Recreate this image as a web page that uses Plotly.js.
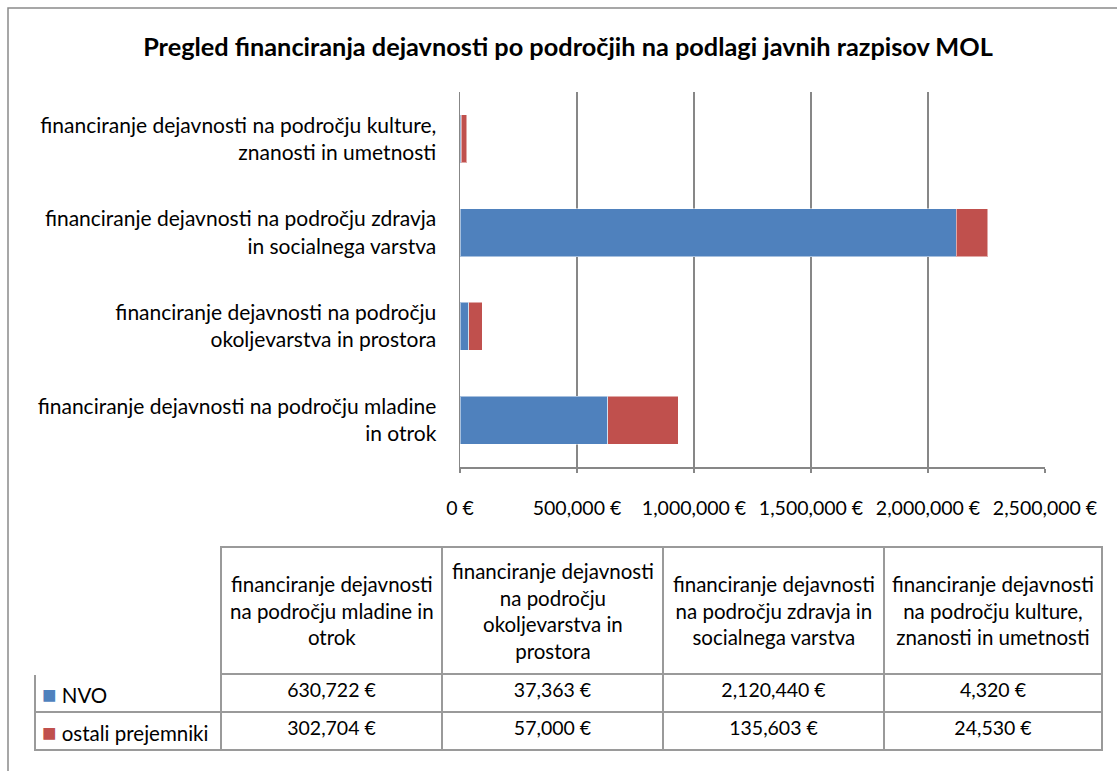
<!DOCTYPE html>
<html>
<head>
<meta charset="utf-8">
<script src="https://cdn.plot.ly/plotly-3.0.1.min.js"></script>
<style>html,body{margin:0;padding:0;background:#fff;}#chart{width:1117px;height:771px;}</style>
</head>
<body>
<div id="chart"></div>
<script>
// Data
var categories = [
  "financiranje dejavnosti na področju mladine<br>in otrok",
  "financiranje dejavnosti na področju<br>okoljevarstva in prostora",
  "financiranje dejavnosti na področju zdravja<br>in socialnega varstva",
  "financiranje dejavnosti na področju kulture,<br>znanosti in umetnosti"
];
var tableHeaders = [
  "financiranje dejavnosti<br>na področju mladine in<br>otrok",
  "financiranje dejavnosti<br>na področju<br>okoljevarstva in<br>prostora",
  "financiranje dejavnosti<br>na področju zdravja in<br>socialnega varstva",
  "financiranje dejavnosti<br>na področju kulture,<br>znanosti in umetnosti"
];
var seriesNames = ["NVO", "ostali prejemniki"];
var nvoValues = [630722, 37363, 2120440, 4320];
var ostaliValues = [302704, 57000, 135603, 24530];
var seriesColors = ["#4F81BD", "#C0504D"];
var xTickVals = [0, 500000, 1000000, 1500000, 2000000, 2500000];

var W = 1117, H = 771;
function px(x){ return x / W; }
function py(y){ return 1 - y / H; }
function fmt(v){ return v.toLocaleString('en-US') + ' €'; }

var FONT = 'Lato, "Open Sans", sans-serif';
var GRID = '#878787';
var BORDER = '#9a9a9a';
var TXT = 20.5, NUM = 19.5;

// table geometry
var tblLeft = 35, tblRight = 1102, tblTop = 547, headH = 127, rowH = 38;
var colW = [186, 221, 221, 221, 218];

var traces = [
  {
    type: 'bar', orientation: 'h', name: seriesNames[0],
    y: categories, x: nvoValues,
    marker: {color: seriesColors[0], line: {color: 'rgba(255,255,255,0.5)', width: 1}},
    hoverinfo: 'x+name'
  },
  {
    type: 'bar', orientation: 'h', name: seriesNames[1],
    y: categories, x: ostaliValues,
    marker: {color: seriesColors[1], line: {color: 'rgba(255,255,255,0.5)', width: 1}},
    hoverinfo: 'x+name'
  },
  {
    type: 'table',
    domain: {x: [px(tblLeft), px(tblRight)], y: [py(tblTop + headH + 2 * rowH + 8), py(tblTop)]},
    columnwidth: colW,
    header: {
      values: ['', '', '', '', ''],
      height: headH,
      fill: {color: 'white'},
      line: {color: ['white', BORDER, BORDER, BORDER, BORDER], width: 1.5},
      font: {family: FONT, size: TXT, color: '#000'}
    },
    cells: {
      values: [['', '']].concat(nvoValues.map(function(v, i){ return [fmt(v), fmt(ostaliValues[i])]; })),
      height: rowH,
      align: ['left', 'center', 'center', 'center', 'center'],
      fill: {color: 'white'},
      line: {color: BORDER, width: 1.5},
      font: {family: FONT, size: [TXT, NUM, NUM, NUM, NUM], color: '#000'}
    }
  }
];

// header texts centred in each header cell
var annotations = [];
var totalW = colW.reduce(function(a, b){ return a + b; }, 0);
var scale = (tblRight - tblLeft) / totalW;
var xCursor = tblLeft + colW[0] * scale;
tableHeaders.forEach(function(t, i){
  var w = colW[i + 1] * scale;
  annotations.push({
    xref: 'paper', yref: 'paper',
    x: px(xCursor + w / 2), y: py(tblTop + headH / 2),
    xanchor: 'center', yanchor: 'middle', align: 'center',
    text: t, showarrow: false,
    font: {family: FONT, size: TXT, color: '#000'}
  });
  xCursor += w;
});
// legend keys + series names in the table's first column
seriesNames.forEach(function(n, i){
  annotations.push({
    xref: 'paper', yref: 'paper',
    x: px(tblLeft + 5), y: py(tblTop + headH + rowH * (i + 0.5)),
    xanchor: 'left', yanchor: 'middle', align: 'left',
    text: '<span style="color:' + seriesColors[i] + ';font-size:24px">■</span> ' + n,
    showarrow: false,
    font: {family: FONT, size: TXT, color: '#000'}
  });
});

var layout = {
  width: W, height: H,
  margin: {l: 0, r: 0, t: 0, b: 0},
  paper_bgcolor: 'white', plot_bgcolor: 'white',
  barmode: 'stack',
  bargap: 0.49,
  showlegend: false,
  font: {family: FONT, size: TXT, color: '#000'},
  title: {
    text: '<b>Pregled financiranja dejavnosti po področjih na podlagi javnih razpisov MOL</b>',
    font: {family: FONT, size: 25.3, color: '#000'},
    x: px(568), xanchor: 'center', y: py(47), yanchor: 'middle'
  },
  xaxis: {
    domain: [px(460), px(1045)],
    range: [0, 2500000],
    tickmode: 'array',
    tickvals: xTickVals,
    ticktext: xTickVals.map(fmt),
    showgrid: true, gridcolor: GRID, gridwidth: 1.5,
    showline: true, linecolor: GRID, linewidth: 1.5,
    ticks: 'outside', ticklen: 4, tickcolor: GRID, tickwidth: 1.5,
    ticklabelstandoff: 19,
    zeroline: false, fixedrange: true,
    tickfont: {family: FONT, size: NUM, color: '#000'}
  },
  yaxis: {
    domain: [py(467), py(92)],
    type: 'category',
    showline: true, linecolor: GRID, linewidth: 1.5,
    showgrid: false, ticks: '', ticklabelstandoff: 18,
    fixedrange: true,
    tickfont: {family: FONT, size: 21, color: '#000'}
  },
  annotations: annotations,
  shapes: [
    {type: 'rect', xref: 'paper', yref: 'paper', x0: px(8), x1: 1.02, y0: -0.02, y1: py(8),
     line: {color: '#8a8a8a', width: 1.5}, fillcolor: 'rgba(0,0,0,0)'}
  ]
};

Plotly.newPlot('chart', traces, layout, {displayModeBar: false, staticPlot: true});
</script>
</body>
</html>
